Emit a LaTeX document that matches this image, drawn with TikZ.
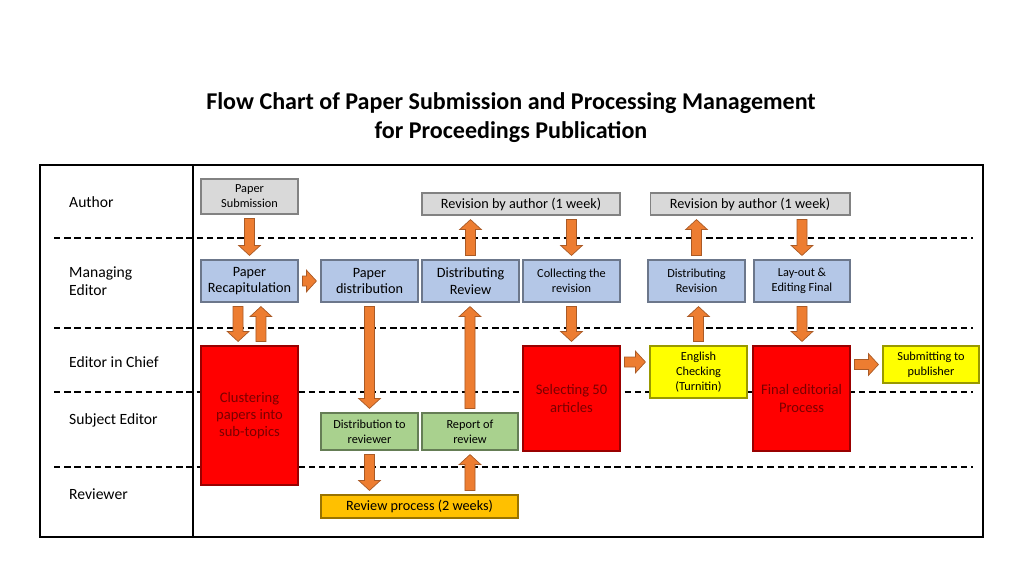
\documentclass[tikz,border=0pt]{standalone}
\usepackage{fontspec}
\setmainfont{Carlito}
\usetikzlibrary{calc,positioning}
\definecolor{flowOr}{HTML}{ED7D31}
\definecolor{flowEdge}{HTML}{A95A26}
\definecolor{boxGray}{HTML}{D9D9D9}
\definecolor{boxBlue}{HTML}{B4C7E7}
\definecolor{boxGreen}{HTML}{A9D18E}
\definecolor{boxAmber}{HTML}{FFC000}
\definecolor{boxRed}{HTML}{FF0000}
\definecolor{boxYellow}{HTML}{FFFF00}
\definecolor{redText}{HTML}{7A0000}
\newcommand{\flowGap}{2.3pt}
\newcommand{\flowShaft}{2.85pt}
\newcommand{\flowHead}{6.2pt}
\newcommand{\flowTip}{5.7pt}
\tikzset{
	box/.style={draw=#1!60!black, fill=#1, line width=0.6pt, inner sep=1pt, align=center},
	big/.style={font=\fontsize{8.1}{9.4}\selectfont},
	small/.style={font=\fontsize{7}{8.5}\selectfont},
	lane/.style={anchor=west, align=left, font=\fontsize{8.9}{10.6}\selectfont},
	sep/.style={line width=1.1pt, dash pattern=on 3.6pt off 2.2pt},
	flow/.style={draw=flowEdge, fill=flowOr, line width=0.4pt, to path={
			let \p1=(\tikztostart), \p2=(\tikztotarget),
			\n1={veclen(\x2-\x1,\y2-\y1)}, \n2={(\x2-\x1)/\n1}, \n3={(\y2-\y1)/\n1},
			\p3=({\x1+\flowGap*(\n2)},{\y1+\flowGap*(\n3)}),
			\p5=({\x2-\flowGap*(\n2)},{\y2-\flowGap*(\n3)}),
			\p4=({\x5-\flowTip*(\n2)},{\y5-\flowTip*(\n3)})
			in ({\x3-\flowShaft*(\n3)},{\y3+\flowShaft*(\n2)}) -- ({\x4-\flowShaft*(\n3)},{\y4+\flowShaft*(\n2)})
			-- ({\x4-\flowHead*(\n3)},{\y4+\flowHead*(\n2)}) -- (\p5)
			-- ({\x4+\flowHead*(\n3)},{\y4-\flowHead*(\n2)}) -- ({\x4+\flowShaft*(\n3)},{\y4-\flowShaft*(\n2)})
			-- ({\x3+\flowShaft*(\n3)},{\y3-\flowShaft*(\n2)}) -- cycle}}
}

\begin{document}
\begin{tikzpicture}[x=0.02cm, y=-0.02cm]
	\useasboundingbox (0,0) rectangle (1024,576);
	\node[font=\bfseries\fontsize{13.7}{16.6}\selectfont, align=center] (title) at (511,118) {Flow Chart of Paper Submission and Processing Management\\for Proceedings Publication};
	
	% frame and lanes
	\draw[line width=1.2pt] (40,165) rectangle (983,537);
	\draw[line width=1pt] (193,165) -- (193,537);
	\foreach \ly in {238,328,392,467}
		\draw[sep] (54,\ly) -- (973,\ly);
	
	\node[lane] (lA) at (63,202) {Author};
	\node[lane] (lM) at (63,281) {Managing\\Editor};
	\node[lane] (lC) at (63,362) {Editor in Chief};
	\node[lane] (lS) at (63,420) {Subject Editor};
	\node[lane] (lR) at (63,494) {Reviewer};
	
	% author row
	\node[box=boxGray, small, minimum width=19.4mm, minimum height=7mm] (sub) at (249.5,196.5) {Paper\\Submission};
	\node[box=boxGray, big, minimum width=39.6mm, minimum height=4.4mm] (rev1) at (521,204) {Revision by author (1 week)};
	\node[box=boxGray, big, minimum width=40mm, minimum height=4.4mm] (rev2) at (750,204) {Revision by author (1 week)};
	
	% managing editor row
	\node[box=boxBlue, big, minimum width=19.4mm, minimum height=8.4mm] (rec) at (249.5,281) {Paper\\Recapitulation};
	\node[box=boxBlue, big, minimum width=19.4mm, minimum height=8.4mm] (dist) at (369.5,281) {Paper\\distribution};
	\node[box=boxBlue, big, minimum width=19.4mm, minimum height=8.4mm] (drev) at (470.5,281) {Distributing\\Review};
	\node[box=boxBlue, small, minimum width=19.4mm, minimum height=8.4mm] (coll) at (571.5,281) {Collecting the\\revision};
	\node[box=boxBlue, small, minimum width=19.4mm, minimum height=8.4mm] (dvis) at (696.5,281) {Distributing\\Revision};
	\node[box=boxBlue, small, minimum width=19.2mm, minimum height=8.4mm] (lay) at (802,281) {Lay-out \&\\Editing Final};
	
	% editor in chief / subject editor
	\node[box=boxRed, text=redText, font=\fontsize{8.3}{9.8}\selectfont, minimum width=19.4mm, minimum height=27.8mm] (clu) at (249.5,415.5) {Clustering\\papers into\\sub-topics};
	\node[box=boxRed, text=redText, font=\fontsize{8.3}{9.8}\selectfont, minimum width=19.4mm, minimum height=21mm] (sel) at (571.5,398.5) {Selecting 50\\articles};
	\node[box=boxYellow, small, minimum width=19.4mm, minimum height=10.4mm] (eng) at (698.5,372) {English\\Checking\\(Turnitin)};
	\node[box=boxRed, text=redText, font=\fontsize{8.3}{9.8}\selectfont, minimum width=19.4mm, minimum height=21mm] (fin) at (801.5,398.5) {Final editorial\\Process};
	\node[box=boxYellow, small, minimum width=19.2mm, minimum height=7.4mm] (pub) at (931,364.5) {Submitting to\\publisher};
	\node[box=boxGreen, small, minimum width=19.4mm, minimum height=7.4mm] (dtr) at (369.5,431.5) {Distribution to\\reviewer};
	\node[box=boxGreen, small, minimum width=19.2mm, minimum height=7.4mm] (rep) at (470,431.5) {Report of\\review};
	
	% reviewer
	\node[box=boxAmber, big, minimum width=39.4mm, minimum height=4.6mm] (proc) at (419.5,506.5) {Review process (2 weeks)};
	
	\coordinate (selout) at ($(sel.east |- eng.west)+(0,-10)$);
	
	% flow arrows
	\draw[flow] (sub.south) to (rec.north);
	\draw[flow] (rec.east) to (dist.west);
	\draw[flow] ([xshift=-6.5pt]rec.south) to ([xshift=-6.5pt]rec.south |- clu.north);
	\draw[flow] ([xshift=6.5pt]rec.south |- clu.north) to ([xshift=6.5pt]rec.south);
	\draw[flow] (dist.south) to (dtr.north);
	\draw[flow] (dtr.south) to (dtr.south |- proc.north);
	\draw[flow] (rep.south |- proc.north) to (rep.south);
	\draw[flow] (rep.north) to (rep.north |- drev.south);
	\draw[flow] (drev.north) to (drev.north |- rev1.south);
	\draw[flow] (rev1.south -| coll.south) to (coll.north);
	\draw[flow] (coll.south) to (sel.north);
	\draw[flow] (selout) to (selout -| eng.west);
	\draw[flow] (eng.north) to (eng.north |- dvis.south);
	\draw[flow] (dvis.north) to (dvis.north |- rev2.south);
	\draw[flow] (rev2.south -| lay.south) to (lay.north);
	\draw[flow] (lay.south) to (lay.south |- fin.north);
	\draw[flow] (fin.east |- pub.west) to (pub.west);
\end{tikzpicture}
\end{document}
